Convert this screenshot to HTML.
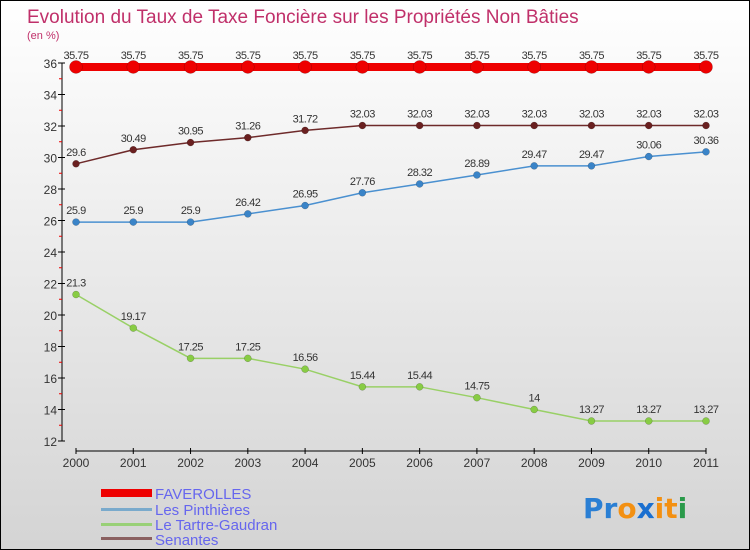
<!DOCTYPE html>
<html><head><meta charset="utf-8"><style>
body{margin:0}
#c{width:750px;height:550px;position:relative;box-sizing:border-box;border:1px solid #000;background:linear-gradient(#fff,#d4d4d4);font-family:"Liberation Sans",sans-serif;overflow:hidden}
</style></head><body>
<div id="c">
<svg id="s" width="748" height="548" style="position:absolute;left:0;top:0">
<text x="26" y="22" font-size="19" fill="#c0306a">Evolution du Taux de Taxe Foncière sur les Propriétés Non Bâties</text>
<text x="26" y="38" font-size="11" fill="#c0306a">(en %)</text>
<g id="ax"></g><g id="ser"></g>
<g>
<rect x="100" y="488" width="51" height="8" fill="#e00"/>
<text x="154" y="498" font-size="15" fill="#6666ee">FAVEROLLES</text>
<rect x="100" y="507" width="51" height="3" fill="#7aaacc"/>
<text x="154" y="514" font-size="15" fill="#6666ee">Les Pinthières</text>
<rect x="100" y="522" width="51" height="3" fill="#99d077"/>
<text x="154" y="529" font-size="15" fill="#6666ee">Le Tartre-Gaudran</text>
<rect x="100" y="536" width="51" height="3" fill="#8a6060"/>
<text x="154" y="544" font-size="15" fill="#6666ee">Senantes</text>
</g>
<g font-size="28" font-weight="bold" font-family="'DejaVu Sans',sans-serif">
<text x="582" y="517"><tspan fill="#2a7fd4">Pr</tspan><tspan fill="#f39012">o</tspan><tspan fill="#1a6fd0">x</tspan><tspan fill="#f39012">i</tspan><tspan fill="#f39012">t</tspan><tspan fill="#2a9a4a">i</tspan></text>
</g>
</svg>
</div>
<script>
const years=[2000,2001,2002,2003,2004,2005,2006,2007,2008,2009,2010,2011];
const faverolles=[35.75,35.75,35.75,35.75,35.75,35.75,35.75,35.75,35.75,35.75,35.75,35.75];
const pinthieres=[25.9,25.9,25.9,26.42,26.95,27.76,28.32,28.89,29.47,29.47,30.06,30.36];
const tartre=[21.3,19.17,17.25,17.25,16.56,15.44,15.44,14.75,14,13.27,13.27,13.27];
const senantes=[29.6,30.49,30.95,31.26,31.72,32.03,32.03,32.03,32.03,32.03,32.03,32.03];
const yTicks=[12,14,16,18,20,22,24,26,28,30,32,34,36];
const NS="http://www.w3.org/2000/svg";
const X=i=>75+i*(630/11);
const Y=v=>440-(v-12)*15.75;
function mk(t,a,p){const e=document.createElementNS(NS,t);for(const k in a)e.setAttribute(k,a[k]);p.appendChild(e);return e;}
const ax=document.getElementById('ax'),ser=document.getElementById('ser');
let l=mk('line',{x1:61,y1:Y(36),x2:61,y2:440,stroke:'#000'},ax);


yTicks.forEach((v,i)=>{
 mk('line',{x1:57,x2:64,y1:Y(v),y2:Y(v),stroke:'#000'},ax);
 if(i<yTicks.length-1)mk('line',{x1:58,x2:61,y1:Y(v+1),y2:Y(v+1),stroke:'#e00'},ax);
 const t=mk('text',{x:56,y:Y(v)+5,'font-size':12,fill:'#333','text-anchor':'end'},ax);t.textContent=v;
 
 
});
l=mk('line',{x1:75,y1:450,x2:X(11),y2:450,stroke:'#000'},ax);


years.forEach((y,i)=>{
 mk('line',{x1:X(i),x2:X(i),y1:447,y2:453,stroke:'#000'},ax);
 const t=mk('text',{x:X(i),y:466,'font-size':12,fill:'#333','text-anchor':'middle'},ax);t.textContent=y;
 
 
});
function series(name,data,color,w,r,dot){
 const g=mk('g',{},ser);
 
 
 mk('polyline',{points:data.map((v,i)=>X(i)+','+Y(v)).join(' '),fill:'none',stroke:color,'stroke-width':w},g);
 data.forEach((v,i)=>{
  const c=mk('circle',{cx:X(i),cy:Y(v),r:r,fill:dot,stroke:'rgba(0,0,0,0.3)','stroke-width':0.5},g);
  
  
  const t=mk('text',{x:X(i),y:Y(v)-8,'font-size':11,fill:'#333','text-anchor':'middle','letter-spacing':'-0.5'},g);
  t.textContent=String(v);
  
  
 });
}
series('senantes',senantes,'#6e2a2a',1.5,3.5,'#6a2020');
series('pinthieres',pinthieres,'#4a90d0',1.5,3.5,'#3a84c8');
series('tartre',tartre,'#99d066',1.5,3.5,'#88cc44');
series('faverolles',faverolles,'#e00',8,6.5,'#e00');
</script>
</body></html>
